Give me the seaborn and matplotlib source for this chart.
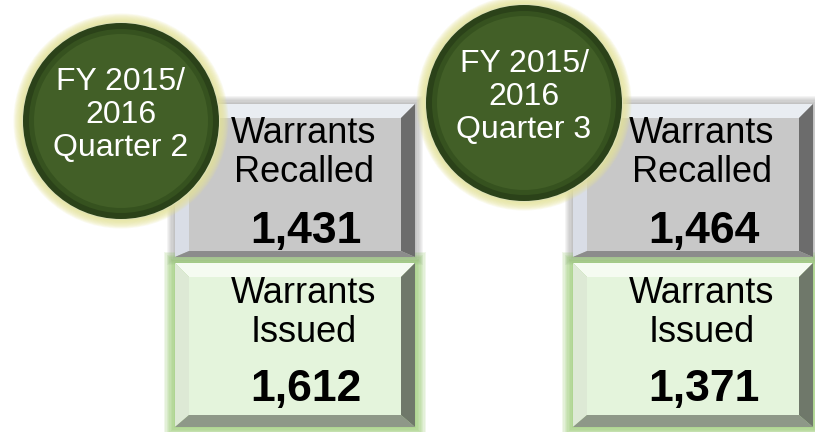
import matplotlib
matplotlib.use("Agg")
import matplotlib.pyplot as plt
import seaborn as sns
from matplotlib.patches import Polygon, Rectangle, Circle

sns.set_style("white")
plt.rcParams['font.family'] = ['Liberation Sans', 'DejaVu Sans']

# ---- data ----
quarters = ["FY 2015/\n2016\nQuarter 2", "FY 2015/\n2016\nQuarter 3"]
recalled_label = "Warrants\nRecalled"
issued_label = "Warrants\nIssued"
recalled = [1431, 1464]
issued = [1612, 1371]

# ---- layout (pixels) ----
panel_x = [175, 573]
circle_c = [(121, 121), (524, 103)]
circle_r = 98
box_w = 240

fig = plt.figure(figsize=(8.15, 4.32), dpi=100)
ax = fig.add_axes([0, 0, 1, 1])
ax.set_xlim(0, 815)
ax.set_ylim(432, 0)
ax.axis("off")


def glow(x0, y0, x1, y1, color, n, step, alpha):
    for i in range(n, 0, -1):
        d = i * step
        ax.add_patch(Rectangle((x0 - d, y0 - d), (x1 - x0) + 2 * d, (y1 - y0) + 2 * d,
                               facecolor=color, edgecolor="none", alpha=alpha, zorder=1))


def bevel_box(x0, y0, x1, y1, b, bb, face, top, left, right, bottom):
    ax.add_patch(Polygon([(x0, y0), (x1, y0), (x1 - b, y0 + b), (x0 + b, y0 + b)],
                         closed=True, facecolor=top, edgecolor="none", zorder=2))
    ax.add_patch(Polygon([(x0, y0), (x0 + b, y0 + b), (x0 + b, y1 - bb), (x0, y1)],
                         closed=True, facecolor=left, edgecolor="none", zorder=2))
    ax.add_patch(Polygon([(x1, y0), (x1, y1), (x1 - b, y1 - bb), (x1 - b, y0 + b)],
                         closed=True, facecolor=right, edgecolor="none", zorder=2))
    ax.add_patch(Polygon([(x0, y1), (x1, y1), (x1 - b, y1 - bb), (x0 + b, y1 - bb)],
                         closed=True, facecolor=bottom, edgecolor="none", zorder=2))
    ax.add_patch(Rectangle((x0 + b, y0 + b), (x1 - x0) - 2 * b, (y1 - y0) - b - bb,
                           facecolor=face, edgecolor="none", zorder=2))


for i in range(2):
    x0 = panel_x[i]
    x1 = x0 + box_w
    cx_text = x0 + 129
    # gray box (recalled)
    glow(x0, 104, x1, 257, "#6f6f6f", 7, 1.2, 0.07)
    bevel_box(x0, 104, x1, 257, 14, 6, "#c8c8c8", "#e9edf2", "#d9dde6", "#6c6c6c", "#8c8c8c")
    # green box (issued)
    glow(x0, 263, x1, 427, "#86c25a", 8, 1.4, 0.12)
    bevel_box(x0, 263, x1, 427, 14, 12, "#e4f4dc", "#f5fbf1", "#dde9d5", "#6f786a", "#8e9888")

    ax.text(cx_text, 153, recalled_label, ha="center", va="center", fontsize=26,
            color="black", linespacing=1.13, zorder=5)
    ax.text(cx_text + 2, 231, f"{recalled[i]:,}", ha="center", va="center", fontsize=32,
            fontweight="bold", color="black", zorder=5)
    ax.text(cx_text, 313, issued_label, ha="center", va="center", fontsize=26,
            color="black", linespacing=1.13, zorder=5)
    ax.text(cx_text + 2, 389, f"{issued[i]:,}", ha="center", va="center", fontsize=32,
            fontweight="bold", color="black", zorder=5)

    # circle badge
    cx, cy = circle_c[i]
    for k in range(12, 0, -1):
        ax.add_patch(Circle((cx, cy), circle_r + k * 0.8, facecolor="#e6e49a",
                            edgecolor="none", alpha=0.14, zorder=6))
    ax.add_patch(Circle((cx, cy), circle_r + 1, facecolor="#dfe2b8", edgecolor="none", zorder=6))
    ax.add_patch(Circle((cx, cy), circle_r, facecolor="#2b4219", edgecolor="none", zorder=6))
    ax.add_patch(Circle((cx, cy), circle_r - 6, facecolor="#36521f", edgecolor="none", zorder=6))
    ax.add_patch(Circle((cx, cy), circle_r - 11, facecolor="#425f27", edgecolor="none", zorder=6))
    ax.text(cx, cy - 6, quarters[i], ha="center", va="center", fontsize=23,
            color="white", linespacing=1.12, zorder=7)

fig.savefig("out.png", dpi=100)
